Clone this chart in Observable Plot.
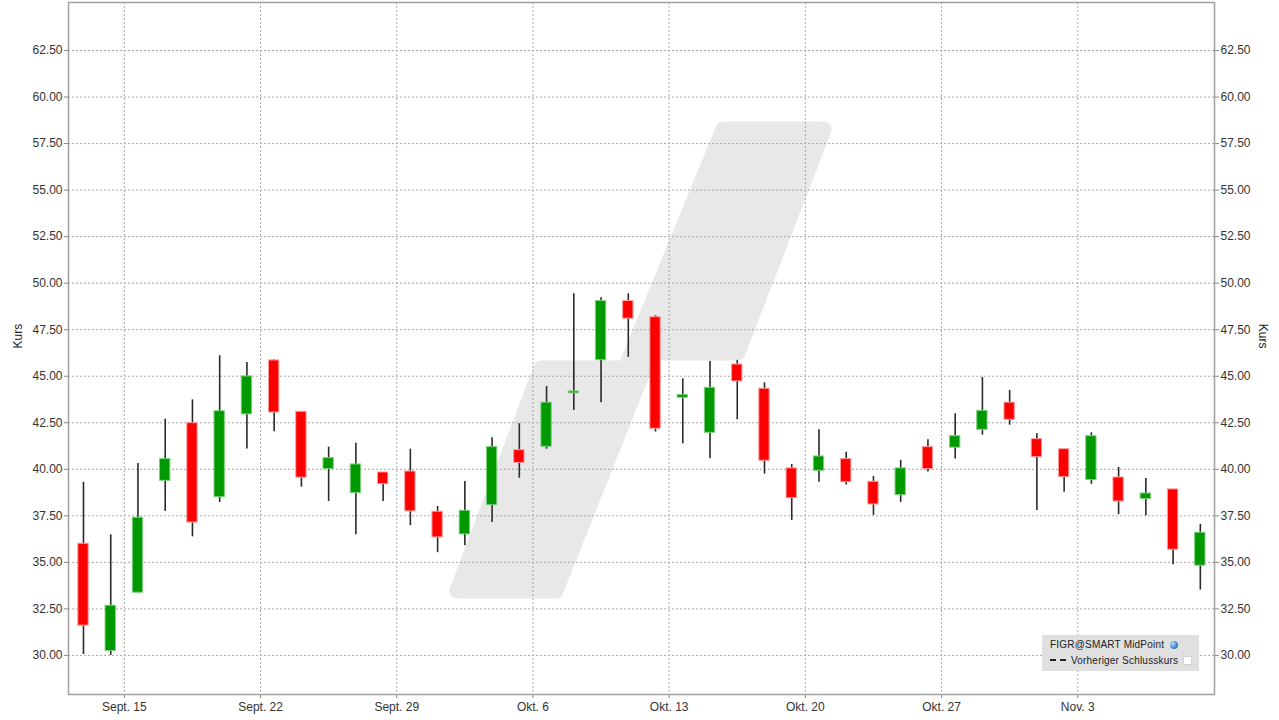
<!DOCTYPE html>
<html>
<head>
<meta charset="utf-8">
<script src="https://cdn.jsdelivr.net/npm/d3@7"></script>
<script src="https://cdn.jsdelivr.net/npm/@observablehq/plot@0.6"></script>
<style>
  html, body { margin: 0; padding: 0; background: #fff; }
  #wrap { position: relative; width: 1279px; height: 720px; font-family: "Liberation Sans", Arial, sans-serif; }
  #legend { position: absolute; left: 1042px; top: 635px; width: 157px; height: 36px; background: #e0e0e0;
    font-size: 10px; color: #222; letter-spacing: 0.2px; }
  #legend .row { position: absolute; left: 8px; white-space: nowrap; }
  .globe { display: inline-block; width: 8px; height: 8px; border-radius: 50%;
    background: radial-gradient(circle at 35% 35%, #bfe0ff, #3a7fc8 60%, #2a5f9a); vertical-align: -1px; margin-left: 6px; }
  .box { display: inline-block; width: 7px; height: 7px; background: #fff; border: 1px solid #d0d0d0; vertical-align: -1px; margin-left: 5px; }
  .dash { display: inline-block; width: 16px; height: 0; border-top: 2px dashed #222; vertical-align: 3px; margin-right: 5px; }
</style>
</head>
<body>
<div id="wrap">
  <div id="chart"></div>
  <div id="legend">
    <div class="row" style="top:4px">FIGR@SMART MidPoint<span class="globe"></span></div>
    <div class="row" style="top:20px"><span class="dash"></span>Vorheriger Schlusskurs<span class="box"></span></div>
  </div>
</div>
<script>
// Trading days (categories)
const dates = [
  "2025-09-11","2025-09-12",
  "2025-09-15","2025-09-16","2025-09-17","2025-09-18","2025-09-19",
  "2025-09-22","2025-09-23","2025-09-24","2025-09-25","2025-09-26",
  "2025-09-29","2025-09-30","2025-10-01","2025-10-02","2025-10-03",
  "2025-10-06","2025-10-07","2025-10-08","2025-10-09","2025-10-10",
  "2025-10-13","2025-10-14","2025-10-15","2025-10-16","2025-10-17",
  "2025-10-20","2025-10-21","2025-10-22","2025-10-23","2025-10-24",
  "2025-10-27","2025-10-28","2025-10-29","2025-10-30","2025-10-31",
  "2025-11-03","2025-11-04","2025-11-05","2025-11-06","2025-11-07"
];
const open  = [36.00,30.23,33.37,39.38,42.48,38.50,42.95,45.85,43.09,40.01,38.72,39.83,39.88,37.72,36.50,38.07,41.03,41.21,44.08,45.86,49.04,48.17,43.84,41.96,45.63,44.33,40.05,39.92,40.55,39.33,38.61,41.19,41.16,42.12,43.58,41.62,41.08,39.42,39.56,38.40,38.92,34.82];
const high  = [39.30,36.48,40.31,42.69,43.73,46.10,45.74,45.88,43.10,41.19,41.40,39.83,41.08,38.00,39.35,41.69,42.45,44.45,49.43,49.21,49.43,48.25,44.86,45.79,45.85,44.65,40.26,42.12,40.92,39.62,40.48,41.59,42.98,44.93,44.24,41.91,41.08,41.96,40.10,39.51,38.92,37.04];
const low   = [30.05,30.00,33.37,37.74,36.37,38.22,41.09,42.02,39.04,38.27,36.48,38.27,36.97,35.52,35.89,37.14,39.52,41.08,43.16,43.58,46.02,42.00,41.37,40.57,42.66,39.74,37.25,39.31,39.15,37.52,38.22,39.85,40.55,41.83,42.37,37.79,38.76,39.19,37.56,37.50,34.87,33.51];
const close = [31.60,32.67,37.40,40.55,37.14,43.12,44.99,43.05,39.55,40.60,40.26,39.20,37.74,36.34,37.77,41.19,40.34,43.58,44.18,49.04,48.09,42.18,44.00,44.38,44.72,40.46,38.45,40.69,39.31,38.11,40.05,40.01,41.78,43.14,42.66,40.65,39.58,41.78,38.27,38.70,35.68,36.59];

// x-axis week ticks (start of each Monday slot) and labels
const weekTickPos = [1.5, 6.5, 11.5, 16.5, 21.5, 26.5, 31.5, 36.5];
const weekLabels = ["Sept. 15","Sept. 22","Sept. 29","Okt. 6","Okt. 13","Okt. 20","Okt. 27","Nov. 3"];
const yTicks = [30, 32.5, 35, 37.5, 40, 42.5, 45, 47.5, 50, 52.5, 55, 57.5, 60, 62.5];

// background watermark outline (decoration, in chart units)
const wmX = [13.73, 16.81, 19.90, 23.49, 27.17, 24.01, 20.81, 17.33];
const wmY = [33.49, 45.42, 45.42, 58.26, 58.26, 46.28, 46.28, 33.49];

const idx = d3.range(dates.length);
const wm = d3.range(wmX.length);
const fmt = d3.format(".2f");
const up = i => close[i] >= open[i];

const chart = Plot.plot({
  width: 1279,
  height: 720,
  marginLeft: 68,
  marginRight: 65,
  marginTop: 2,
  marginBottom: 26,
  style: { fontFamily: "'Liberation Sans', Arial, sans-serif", fontSize: "12px", color: "#333", background: "#fff" },
  x: { type: "linear", domain: [-0.55, 41.52] },
  y: { domain: [27.9, 65.08] },
  marks: [
    Plot.line(wm, { x: i => wmX[i], y: i => wmY[i], curve: "linear-closed", fill: "#e8e8e8", stroke: "#e8e8e8", strokeWidth: 16, strokeLinejoin: "round" }),
    Plot.gridY(yTicks, { stroke: "#a8a8a8", strokeOpacity: 1, strokeDasharray: "2,2" }),
    Plot.gridX(weekTickPos, { stroke: "#a8a8a8", strokeOpacity: 1, strokeDasharray: "2,2" }),
    Plot.axisY(yTicks, { anchor: "left", tickFormat: fmt, tickSize: 4, tickPadding: 2, label: null, fontSize: 12, stroke: "#888" }),
    Plot.axisY(yTicks, { anchor: "right", tickFormat: fmt, tickSize: 4, tickPadding: 2, label: null, fontSize: 12, stroke: "#888" }),
    Plot.axisX(weekTickPos, { anchor: "bottom", tickFormat: (d, k) => weekLabels[k], tickSize: 4, tickPadding: 4, label: null, fontSize: 12, stroke: "#888" }),
    Plot.ruleX(idx, { x: i => i, y1: i => low[i], y2: i => high[i], stroke: "#2a2a2a", strokeWidth: 1.6 }),
    Plot.rect(idx, {
      x1: i => i - 0.19, x2: i => i + 0.19,
      y1: i => open[i], y2: i => close[i],
      fill: i => up(i) ? "#009a00" : "#ff0000",
      stroke: i => up(i) ? "#7fd07f" : "#ff9c9c",
      strokeWidth: 1
    }),
    Plot.frame({ stroke: "#a0a0a0", strokeWidth: 1.5 }),
    Plot.text(["Kurs"], { frameAnchor: "left", dx: -50, rotate: -90, fontSize: 12, fill: "#222" }),
    Plot.text(["Kurs"], { frameAnchor: "right", dx: 48, rotate: 90, fontSize: 12, fill: "#222" })
  ]
});
document.getElementById("chart").appendChild(chart);
</script>
</body>
</html>
